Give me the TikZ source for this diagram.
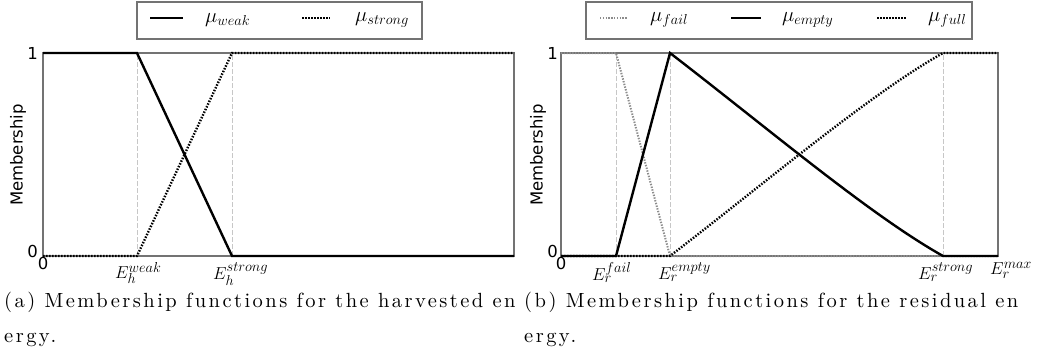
\documentclass[tikz,border=0pt]{standalone}
\usepackage{fontspec}
\usepackage{tikz}
\newfontfamily\axisfont{DejaVu Sans}
\newfontfamily\capfont{lmroman10-regular}[Extension=.otf, LetterSpace=12]

\begin{document}
\begin{tikzpicture}[x=1pt, y=-1pt,
  frame/.style={draw=black!55, line width=1.2pt},
  guide/.style={draw=black!22, line width=0.9pt, dash pattern=on 5pt off 2pt},
  solidmf/.style={draw=black, line width=2.4pt},
  dotmf/.style={draw=black, line width=2.4pt, dash pattern=on 1.5pt off 1.5pt},
  failmf/.style={draw=black!45, line width=2pt, dash pattern=on 1.4pt off 1.4pt},
  legbox/.style={draw=black!55, line width=1.2pt},
  axlab/.style={font=\axisfont\fontsize{16.5}{18}\selectfont, inner sep=0pt},
  ticklab/.style={font=\fontsize{19}{21}\selectfont, anchor=north west, inner sep=0pt},
  leglab/.style={font=\fontsize{20}{22}\selectfont, anchor=west, inner sep=0pt},
  caplab/.style={font=\capfont\fontsize{20.5}{35}\selectfont,
    anchor=north west, align=left, inner sep=0pt}
]
\useasboundingbox (0,0) rectangle (1046,362);

% ---------------- (a) harvested energy ----------------
\coordinate (a00) at (43,256);  \coordinate (a01) at (43,53);
\coordinate (a10) at (514,256); \coordinate (a11) at (514,53);
\coordinate (wk0) at (137,256); \coordinate (wk1) at (137,53);
\coordinate (st0) at (232,256); \coordinate (st1) at (232,53);

% guides at the break points
\draw[guide] (wk0) -- (wk1);
\draw[guide] (st0) -- (st1);
\draw[frame] (a00) rectangle (a11);

% membership functions
\draw[solidmf] (a01) -- (wk1) -- (st0) -- (a10);
\draw[dotmf] (a00) -- (wk0) -- (st1) -- (a11);

% axis labels
\node[axlab, anchor=east] (ay1) at (38,53) {1};
\node[axlab, anchor=east] (ay0) at (38,251) {0};
\node[axlab, anchor=north] (ax0) at (43,257) {0};
\node[axlab, rotate=90] (aylab) at (18,155) {Membership};
\node[ticklab] (awk) at (115,262) {$E_h^{weak}$};
\node[ticklab] (ast) at (213,262) {$E_h^{strong}$};

% legend
\draw[legbox] (137,2) rectangle (422,39);
\coordinate (lw0) at (150,18); \coordinate (lw1) at (183,18);
\coordinate (ls0) at (302,18); \coordinate (ls1) at (330,18);
\draw[solidmf] (lw0) -- (lw1);
\draw[dotmf] (ls0) -- (ls1);
\node[leglab] (lweak) at (205,20) {$\mu_{weak}$};
\node[leglab] (lstrong) at (355,20) {$\mu_{strong}$};

% caption
\node[caplab] (capa) at (4,292) {(a) Membership functions for the harvested en\\ergy.};

% ---------------- (b) residual energy ----------------
\coordinate (b00) at (561,256); \coordinate (b01) at (561,53);
\coordinate (b10) at (998,256); \coordinate (b11) at (998,53);
\coordinate (fl0) at (616,256); \coordinate (fl1) at (616,53);
\coordinate (em0) at (670,256); \coordinate (em1) at (670,53);
\coordinate (sr0) at (943,256); \coordinate (sr1) at (943,53);

% guides at the break points
\draw[guide] (fl0) -- (fl1);
\draw[guide] (em0) -- (em1);
\draw[guide] (sr0) -- (sr1);
\draw[frame] (b00) rectangle (b11);

% membership functions
\draw[failmf] (b01) -- (fl1) -- (em0) -- (b10);
\draw[dotmf] (b00) -- (em0) .. controls (770,179) and (870,94) .. (sr1) -- (b11);
\draw[solidmf] (b00) -- (fl0) -- (em1) .. controls (770,130) and (870,215) .. (sr0) -- (b10);

% axis labels
\node[axlab, anchor=east] (by1) at (558,53) {1};
\node[axlab, anchor=east] (by0) at (558,251) {0};
\node[axlab, anchor=north] (bx0) at (561,257) {0};
\node[axlab, rotate=90] (bylab) at (538,155) {Membership};
\node[ticklab] (bfl) at (592,262) {$E_r^{fail}$};
\node[ticklab] (bem) at (658,262) {$E_r^{empty}$};
\node[ticklab] (bsr) at (918,262) {$E_r^{strong}$};
\node[ticklab] (bmx) at (990,262) {$E_r^{max}$};

% legend
\draw[legbox] (586,2) rectangle (972,39);
\coordinate (lf0) at (600,18); \coordinate (lf1) at (627,18);
\coordinate (le0) at (731,18); \coordinate (le1) at (761,18);
\coordinate (lu0) at (877,18); \coordinate (lu1) at (907,18);
\draw[failmf] (lf0) -- (lf1);
\draw[solidmf] (le0) -- (le1);
\draw[dotmf] (lu0) -- (lu1);
\node[leglab] (lfail) at (650,20) {$\mu_{fail}$};
\node[leglab] (lempty) at (782,20) {$\mu_{empty}$};
\node[leglab] (lfull) at (928,20) {$\mu_{full}$};

% caption
\node[caplab] (capb) at (524,292) {(b) Membership functions for the residual en\\ergy.};

\end{tikzpicture}
\end{document}
